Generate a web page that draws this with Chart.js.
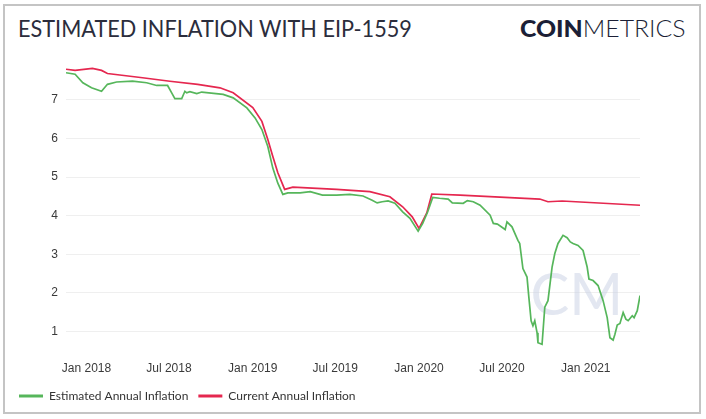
<!DOCTYPE html>
<html>
<head>
<meta charset="utf-8">
<script src="https://cdn.jsdelivr.net/npm/chart.js@4.4.0/dist/chart.umd.min.js"></script>
<style>
  html, body { margin: 0; padding: 0; background: #fff; overflow: hidden; }
  #wrap { position: relative; width: 706px; height: 419px; }
  #frame { position: absolute; left: 3px; top: 4px; width: 698px; height: 410px; border: 2px solid #c4c4c4; box-sizing: border-box; }
  #title { position: absolute; left: 18px; top: 17px; font: 400 23px/23px Lato, sans-serif; color: #2b2d3c; white-space: nowrap; transform-origin: 0 0; }
  #logo { position: absolute; left: 520px; top: 17px; font: 23px/23px Lato, sans-serif; color: #1c1f36; white-space: nowrap; transform-origin: 0 0; }
  #logo b { font-weight: 900; }
  #logo span { font-weight: 300; }
  canvas { position: absolute; left: 0; top: 0; }
</style>
</head>
<body>
<div id="wrap">
  <div id="frame"></div>
  <div id="title">ESTIMATED INFLATION WITH EIP-1559</div>
  <div id="logo"><b>COIN</b><span>METRICS</span></div>
  <canvas id="chart" width="706" height="412"></canvas>
</div>
<script>
// Estimated Annual Inflation (green)
const estDates = ['2017-11-17','2017-12-07','2017-12-24','2018-01-12','2018-02-03','2018-02-16','2018-03-08','2018-04-12','2018-05-13','2018-06-04','2018-06-28','2018-07-07','2018-07-14','2018-07-29','2018-08-05','2018-08-09','2018-08-16','2018-08-31','2018-09-11','2018-10-28','2018-11-19','2018-12-19','2019-01-06','2019-01-21','2019-02-03','2019-02-14','2019-02-25','2019-03-08','2019-03-19','2019-04-15','2019-05-07','2019-06-03','2019-07-04','2019-08-02','2019-08-31','2019-09-20','2019-10-01','2019-10-12','2019-10-25','2019-11-09','2019-11-26','2019-12-12','2019-12-30','2020-01-09','2020-01-20','2020-01-31','2020-02-15','2020-03-05','2020-03-14','2020-04-07','2020-04-16','2020-04-29','2020-05-14','2020-06-05','2020-06-12','2020-06-21','2020-07-08','2020-07-12','2020-07-23','2020-08-05','2020-08-09','2020-08-16','2020-08-25','2020-08-29','2020-09-03','2020-09-07','2020-09-11','2020-09-16','2020-09-18','2020-09-27','2020-10-03','2020-10-10','2020-10-19','2020-10-25','2020-11-01','2020-11-12','2020-11-21','2020-11-28','2020-12-04','2020-12-15','2020-12-26','2021-01-04','2021-01-08','2021-01-17','2021-01-28','2021-02-08','2021-02-17','2021-02-23','2021-03-02','2021-03-06','2021-03-11','2021-03-17','2021-03-24','2021-03-30','2021-04-04','2021-04-13','2021-04-17','2021-04-24','2021-04-30'];
const estValues = [7.70,7.66,7.44,7.31,7.22,7.40,7.46,7.48,7.44,7.37,7.37,7.18,7.03,7.03,7.22,7.18,7.21,7.16,7.20,7.14,7.05,6.79,6.53,6.23,5.79,5.23,4.84,4.55,4.59,4.59,4.62,4.53,4.53,4.55,4.51,4.40,4.33,4.36,4.38,4.32,4.10,3.93,3.60,3.80,4.10,4.47,4.45,4.43,4.33,4.32,4.39,4.36,4.27,4.01,3.80,3.78,3.64,3.84,3.71,3.36,3.28,2.63,2.41,1.89,1.28,1.15,1.28,0.97,0.71,0.67,1.63,1.80,2.67,3.02,3.28,3.49,3.43,3.32,3.28,3.23,3.10,2.67,2.36,2.32,2.19,1.80,1.36,0.84,0.78,0.93,1.17,1.21,1.49,1.32,1.28,1.41,1.36,1.54,1.93];

// Current Annual Inflation (red)
const curDates = ['2017-11-17','2017-12-07','2018-01-14','2018-02-03','2018-02-16','2018-05-04','2018-07-03','2018-09-02','2018-10-21','2018-11-19','2019-01-01','2019-01-21','2019-02-03','2019-02-14','2019-02-25','2019-03-12','2019-03-30','2019-07-04','2019-09-15','2019-10-29','2019-11-26','2019-12-17','2020-01-01','2020-01-18','2020-01-29','2020-03-31','2020-09-22','2020-10-10','2020-11-10','2021-04-30'];
const curValues = [7.79,7.76,7.81,7.76,7.68,7.57,7.48,7.40,7.31,7.18,6.80,6.44,5.97,5.53,5.11,4.68,4.74,4.68,4.62,4.49,4.23,3.97,3.67,4.07,4.56,4.53,4.43,4.36,4.38,4.27];

const tickDates = ['2018-01-01','2018-07-01','2019-01-01','2019-07-01','2020-01-01','2020-07-01','2021-01-01'];
const tickLabels = ['Jan 2018','Jul 2018','Jan 2019','Jul 2019','Jan 2020','Jul 2020','Jan 2021'];
const yTicks = [1, 2, 3, 4, 5, 6, 7];

const toPoints = (dates, values) => dates.map((d, i) => ({ x: Date.parse(d), y: values[i] }));

// fit the header texts to their widths
function fitWidth(id, w) {
  const el = document.getElementById(id);
  el.style.transform = 'scaleX(' + (w / el.offsetWidth) + ')';
}
fitWidth('title', 394);
fitWidth('logo', 166);

const watermark = {
  id: 'watermark',
  beforeDatasetsDraw(chart) {
    const { ctx, chartArea: a } = chart;
    ctx.save();
    ctx.font = '400 58px Lato, sans-serif';
    ctx.fillStyle = 'rgba(200,207,228,0.5)';
    ctx.textAlign = 'center';
    ctx.textBaseline = 'middle';
    ctx.fillText('CM', a.left + (a.right - a.left) * 0.89, a.top + (a.bottom - a.top) * 0.82);
    ctx.restore();
  }
};

const config = {
  type: 'line',
  data: {
    datasets: [
      {
        label: 'Estimated Annual Inflation',
        data: toPoints(estDates, estValues),
        borderColor: '#56b65b',
        backgroundColor: '#56b65b',
        borderWidth: 1.7,
        pointRadius: 0,
        tension: 0
      },
      {
        label: 'Current Annual Inflation',
        data: toPoints(curDates, curValues),
        borderColor: '#e5274f',
        backgroundColor: '#e5274f',
        borderWidth: 1.7,
        pointRadius: 0,
        tension: 0
      }
    ]
  },
  options: {
    responsive: false,
    animation: false,
    layout: { padding: { left: 9, right: 66, top: 65, bottom: 0 } },
    plugins: {
      legend: {
        position: 'bottom',
        align: 'start',
        labels: {
          usePointStyle: true,
          pointStyle: 'line',
          pointStyleWidth: 24,
          padding: 10,
          color: '#333',
          font: { family: 'Lato', size: 12 },
          generateLabels: (chart) => Chart.defaults.plugins.legend.labels.generateLabels(chart)
            .map(item => Object.assign(item, { lineWidth: 3 }))
        }
      },
      tooltip: { enabled: false }
    },
    scales: {
      x: {
        type: 'linear',
        min: Date.parse(estDates[0]),
        max: Date.parse(estDates[estDates.length - 1]),
        afterFit: (scale) => { scale.height = 33; },
        afterBuildTicks: (scale) => { scale.ticks = tickDates.map(d => ({ value: Date.parse(d) })); },
        grid: { display: false },
        border: { display: false },
        ticks: {
          autoSkip: false,
          maxRotation: 0,
          padding: 6,
          color: '#3a3a3a',
          font: { family: 'Liberation Sans', size: 12 },
          callback: (v) => tickLabels[tickDates.findIndex(d => Date.parse(d) === v)]
        }
      },
      y: {
        min: 0.6,
        max: 7.9,
        afterFit: (scale) => { scale.width = 57; },
        afterBuildTicks: (scale) => { scale.ticks = yTicks.map(v => ({ value: v })); },
        grid: { color: '#efefef', drawTicks: false },
        border: { display: false },
        ticks: {
          padding: 8,
          color: '#3a3a3a',
          font: { family: 'Liberation Sans', size: 12 }
        }
      }
    }
  },
  plugins: [watermark]
};

new Chart(document.getElementById('chart'), config);
</script>
</body>
</html>
